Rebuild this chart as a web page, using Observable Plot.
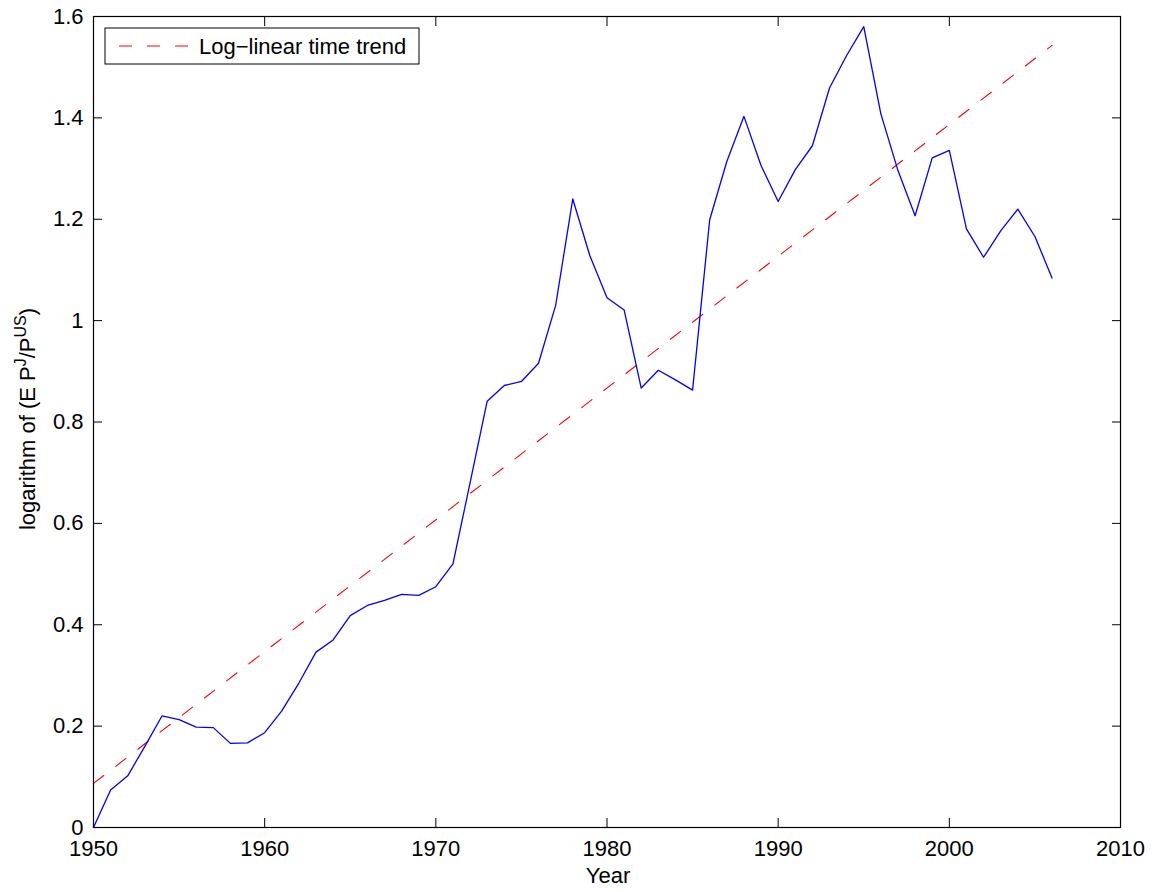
<!DOCTYPE html>
<html><head><meta charset="utf-8">
<script src="https://cdn.jsdelivr.net/npm/d3@7"></script>
<script src="https://cdn.jsdelivr.net/npm/@observablehq/plot@0.6"></script>
<style>html,body{margin:0;padding:0;background:#fff;}</style>
</head><body><div id="chart"></div>
<script>
const years = [1950,1951,1952,1953,1954,1955,1956,1957,1958,1959,
  1960,1961,1962,1963,1964,1965,1966,1967,1968,1969,
  1970,1971,1972,1973,1974,1975,1976,1977,1978,1979,
  1980,1981,1982,1983,1984,1985,1986,1987,1988,1989,
  1990,1991,1992,1993,1994,1995,1996,1997,1998,1999,
  2000,2001,2002,2003,2004,2005,2006];
const logRatio = [0.000,0.074,0.102,0.160,0.220,0.213,0.198,0.197,0.166,0.167,
  0.187,0.230,0.285,0.346,0.370,0.418,0.438,0.448,0.460,0.458,
  0.475,0.520,0.680,0.841,0.872,0.880,0.916,1.030,1.240,1.128,
  1.045,1.021,0.867,0.902,0.883,0.863,1.199,1.314,1.403,1.306,
  1.235,1.298,1.345,1.459,1.523,1.580,1.408,1.296,1.207,1.321,
  1.336,1.181,1.125,1.177,1.220,1.166,1.084];
const trendYears = [1950, 2006];
const trendValues = [0.087, 1.543];
const xTicks = [1950,1960,1970,1980,1990,2000,2010];
const yTicks = [0,0.2,0.4,0.6,0.8,1,1.2,1.4,1.6];
const yTickLabels = ["0","0.2","0.4","0.6","0.8","1","1.2","1.4","1.6"];
const legendLabel = "Log\u2212linear time trend";
const xLabel = "Year";

const series = years.map((y,i)=>({year:y, v:logRatio[i]}));
const trend = trendYears.map((y,i)=>({year:y, v:trendValues[i]}));

const W = 1157, H = 892;
const mL = 93, mR = 37, mT = 16, mB = 65;
const FONT = "'Liberation Sans', Arial, sans-serif";

const plot = Plot.plot({
  width: W, height: H,
  marginLeft: mL, marginRight: mR, marginTop: mT, marginBottom: mB,
  style: {fontFamily: FONT, fontSize: "22px", background: "#fff", color: "#000"},
  x: {domain: [1950, 2010]},
  y: {domain: [0, 1.6]},
  marks: [
    Plot.line(trend, {x: "year", y: "v", stroke: "#ff0000", strokeWidth: 1.1, strokeDasharray: "13,15"}),
    Plot.line(series, {x: "year", y: "v", stroke: "#0000ff", strokeWidth: 1.3}),
    Plot.axisX(xTicks, {anchor: "bottom", tickSize: 0, tickPadding: 13, tickFormat: d => String(d), label: null, fontSize: 22}),
    Plot.axisX(xTicks, {anchor: "bottom", tickSize: -9, tickFormat: () => "", label: null, stroke: "#000"}),
    Plot.axisX(xTicks, {anchor: "top", tickSize: -9, tickFormat: () => "", label: null, stroke: "#000"}),
    Plot.axisY(yTicks, {anchor: "left", tickSize: 0, tickPadding: 10, tickFormat: (d,i) => yTickLabels[i], label: null, fontSize: 22}),
    Plot.axisY(yTicks, {anchor: "left", tickSize: -9, tickFormat: () => "", label: null, stroke: "#000"}),
    Plot.axisY(yTicks, {anchor: "right", tickSize: -9, tickFormat: () => "", label: null, stroke: "#000"}),
    Plot.frame({stroke: "#000", strokeWidth: 1.2})
  ]
});
document.getElementById("chart").appendChild(plot);

const svg = d3.select(plot);
// y label with superscripts
const yl = svg.append("text")
  .attr("transform", `translate(35,419) rotate(-90)`)
  .attr("text-anchor", "middle")
  .attr("font-family", FONT)
  .attr("font-size", 22)
  .attr("fill", "#000");
yl.append("tspan").text("logarithm of (E P");
yl.append("tspan").attr("dy", -9).attr("font-size", 16).text("J");
yl.append("tspan").attr("dy", 9).text("/P");
yl.append("tspan").attr("dy", -9).attr("font-size", 16).text("US");
yl.append("tspan").attr("dy", 9).text(")");

// x label
svg.append("text")
  .attr("x", 608).attr("y", 883)
  .attr("text-anchor", "middle")
  .attr("font-family", FONT)
  .attr("font-size", 22).attr("fill", "#000")
  .text(xLabel);

// legend
const lg = svg.append("g");
lg.append("rect").attr("x", 105).attr("y", 28).attr("width", 314).attr("height", 36)
  .attr("fill", "#fff").attr("stroke", "#000").attr("stroke-width", 1);
lg.append("line").attr("x1", 119).attr("x2", 188).attr("y1", 46).attr("y2", 46)
  .attr("stroke", "#ff0000").attr("stroke-width", 1.1).attr("stroke-dasharray", "13,15");
lg.append("text").attr("x", 199).attr("y", 54)
  .attr("text-anchor", "start")
  .attr("font-family", FONT)
  .attr("font-size", 22).attr("fill", "#000").text(legendLabel);
</script>
</body></html>
